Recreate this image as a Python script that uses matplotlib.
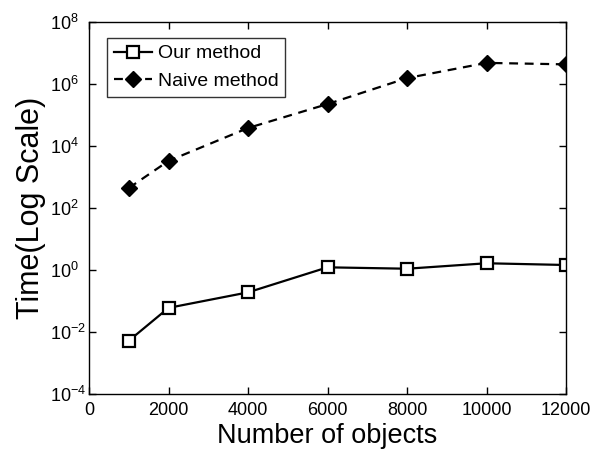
import matplotlib
matplotlib.use("Agg")
import matplotlib.pyplot as plt
from matplotlib.ticker import NullLocator

plt.rcParams['font.family'] = ['Liberation Sans', 'DejaVu Sans']
plt.rcParams['mathtext.fontset'] = 'custom'
plt.rcParams['mathtext.rm'] = 'Liberation Sans'
plt.rcParams['mathtext.it'] = 'Liberation Sans'
plt.rcParams['mathtext.default'] = 'regular'

n_objects = [1000, 2000, 4000, 6000, 8000, 10000, 12000]
our_method = [0.0052, 0.060, 0.19, 1.22, 1.1, 1.65, 1.45]
naive_method = [440, 3300, 38000, 2.25e5, 1.55e6, 4.8e6, 4.3e6]
x_ticks = [0, 2000, 4000, 6000, 8000, 10000, 12000]
y_ticks = [1e-4, 1e-2, 1e0, 1e2, 1e4, 1e6, 1e8]
y_tick_labels = [r'$10^{-4}$', r'$10^{-2}$', r'$10^{0}$', r'$10^{2}$',
                 r'$10^{4}$', r'$10^{6}$', r'$10^{8}$']

fig = plt.figure(figsize=(6.05, 4.51), dpi=100)
ax = fig.add_axes([89/605, 57/451, 477/605, 372/451])

ax.plot(n_objects, our_method, '-', color='black', lw=1.6, marker='s',
        markersize=9, markerfacecolor='white', markeredgecolor='black',
        markeredgewidth=1.6, label='Our method')
ax.plot(n_objects, naive_method, '--', color='black', lw=1.6, marker='D',
        markersize=8, markerfacecolor='black', markeredgecolor='black',
        dashes=(4, 3), label='Naive method')

ax.set_yscale('log')
ax.set_xlim(0, 12000)
ax.set_ylim(1e-4, 1e8)
ax.set_xticks(x_ticks)
ax.set_xticklabels([str(v) for v in x_ticks])
ax.set_yticks(y_ticks)
ax.set_yticklabels(y_tick_labels, ha='left')
ax.yaxis.set_minor_locator(NullLocator())
ax.tick_params(direction='in', top=True, right=True, labelsize=13,
               length=5, width=1)
ax.tick_params(axis='y', pad=28)
ax.tick_params(axis='x', pad=6)
for s in ax.spines.values():
    s.set_linewidth(1)

ax.set_xlabel('Number of objects', fontsize=19.5, labelpad=2.5)
ax.set_ylabel('Time(Log Scale)', fontsize=22)
ax.yaxis.set_label_coords(-0.091, 0.5)

leg = ax.legend(loc='upper left', bbox_to_anchor=(18/477, 1 - 16/372), fontsize=14,
                frameon=True, fancybox=False, edgecolor='black',
                handlelength=1.95, handletextpad=0.3, borderpad=0.35,
                labelspacing=0.5, borderaxespad=0)
leg.get_frame().set_linewidth(1)

fig.savefig('out.png', dpi=100)
